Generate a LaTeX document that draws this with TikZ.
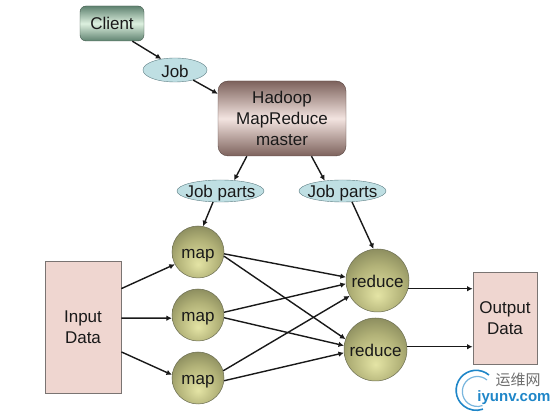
\documentclass[tikz,border=0pt]{standalone}
\usepackage{fontspec}
\setmainfont{Liberation Sans}
\newfontfamily\cjkfont{Noto Sans CJK SC}
\usetikzlibrary{arrows.meta,shapes.geometric}
\definecolor{ellfill}{HTML}{BFDFE3}
\definecolor{ellline}{HTML}{5F7F85}
\definecolor{boxfill}{HTML}{EFD6D0}
\definecolor{boxline}{HTML}{7A7472}
\definecolor{wmblue}{HTML}{1F86C8}
\definecolor{wmgray}{HTML}{6F6F6F}
\definecolor{clientdark}{HTML}{5F8270}
\definecolor{clientlight}{HTML}{DDF0DF}
\definecolor{masterdark}{HTML}{7D625C}
\definecolor{masterlight}{HTML}{F3E4E0}
\definecolor{ballline}{HTML}{6A6C50}
\pgfdeclareradialshading{olive}{\pgfpoint{0bp}{-12bp}}{
  color(0bp)=(rgb,255:red,228;green,228;blue,165);
  color(20bp)=(rgb,255:red,178;green,178;blue,120);
  color(40bp)=(rgb,255:red,112;green,114;blue,76);
  color(62bp)=(rgb,255:red,70;green,72;blue,50)}
\newcommand{\lbl}[2]{\raisebox{#1}[0pt][0pt]{\makebox[0pt]{#2}}}
\tikzset{
  txt/.style={font=\fontsize{17}{21}\selectfont,text=black!90,align=center,inner sep=0pt},
  clientbox/.style={txt,draw=clientdark!70!black,rounded corners=6pt,minimum width=64pt,minimum height=35pt,
    top color=clientdark,bottom color=clientdark,middle color=clientlight},
  masterbox/.style={txt,draw=masterdark!70!black,rounded corners=10pt,minimum width=128pt,minimum height=75pt,
    top color=masterdark,bottom color=masterdark,middle color=masterlight},
  msg/.style={txt,ellipse,draw=ellline,fill=ellfill},
  databox/.style={txt,draw=boxline,fill=boxfill,line width=0.8pt},
  worker/.style={txt,circle,shading=olive,draw=ballline,line width=0.5pt},
  link/.style={draw=black!90,line width=1.4pt,-{Latex[length=5.5pt,width=5.5pt]}},
}
\begin{document}
\begin{tikzpicture}[x=1pt,y=-1pt]
\useasboundingbox (0,0) rectangle (558,414);
\fill[white] (0,0) rectangle (558,414);
\node[clientbox] (client) at (112,23.5) {Client};
\node[msg,minimum width=64pt,minimum height=24pt] (job) at (175,70) {\lbl{-7.5pt}{Job}};
\node[masterbox] (master) at (282,118.5) {\raisebox{-1pt}{Hadoop}\\\raisebox{-1pt}{MapReduce}\\\raisebox{-1pt}{master}};
\node[msg,minimum width=87pt,minimum height=22pt] (parts1) at (220.5,191) {\lbl{-7pt}{Job parts}};
\node[msg,minimum width=87pt,minimum height=22pt] (parts2) at (342.5,191) {\lbl{-7pt}{Job parts}};
\node[databox,minimum width=76pt,minimum height=132pt] (input) at (83,327) {Input\\Data};
\node[worker,minimum size=52pt] (m1) at (198,252) {\lbl{-6.5pt}{map}};
\node[worker,minimum size=52pt] (m2) at (198,315) {\lbl{-6.5pt}{map}};
\node[worker,minimum size=52pt] (m3) at (198,378) {\lbl{-6.5pt}{map}};
\node[worker,minimum size=63pt] (r1) at (377.5,280.5) {\lbl{-7pt}{reduce}};
\node[worker,minimum size=63pt] (r2) at (375.5,349.5) {\lbl{-7pt}{reduce}};
\node[databox,minimum width=64pt,minimum height=92pt] (output) at (505,318) {Output\\Data};
% upper flow
\draw[link] (client.-41) -- (job.141);
\draw[link] (job.-29) -- (master.159.5);
\draw[link] (master.-133) -- (parts1.38);
\draw[link] (master.-52) -- (parts2.150);
\draw[link] (parts1.-124) -- (m1.79);
\draw[link] (parts2.-49) -- (r1.97);
% input to maps
\draw[link] (input.45) -- (m1.-152);
\draw[link] (input.13) -- (m2.-173);
\draw[link] (input.-33) -- (m3.173);
% maps to reduces
\draw[link] (m1.-4) -- (r1.174);
\draw[link] (m1.-9) -- (r2.161);
\draw[link] (m2.6) -- (r1.186);
\draw[link] (m2.-6) -- (r2.173.5);
\draw[link] (m3.16) -- (r1.209);
\draw[link] (m3.-6) -- (r2.186);
% reduces to output
\draw[link] (r1.-15) -- (output.west |- r1.-15);
\draw[link] (r2.5) -- (output.west |- r2.5);
% watermark
\draw[wmblue,line width=1.6pt] (489,375) arc[start angle=50,end angle=290,radius=20pt];
\draw[wmblue!60,line width=1.2pt] (487,380) arc[start angle=50,end angle=290,radius=15pt];
\node[inner sep=0pt,text=wmgray,font=\cjkfont\fontsize{15}{15}\selectfont] (wmcn) at (518,380) {运维网};
\node[inner sep=0pt,text=wmblue,font=\bfseries\fontsize{15}{15}\selectfont] (wmen) at (514,398) {iyunv.com};
\end{tikzpicture}
\end{document}
